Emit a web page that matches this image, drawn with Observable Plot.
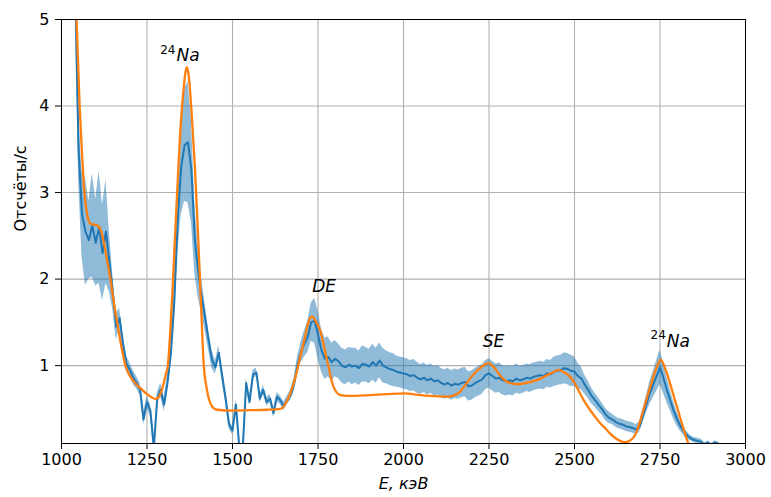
<!DOCTYPE html>
<html>
<head>
<meta charset="utf-8">
<script src="https://cdn.jsdelivr.net/npm/d3@7"></script>
<script src="https://cdn.jsdelivr.net/npm/@observablehq/plot@0.6"></script>
<style>
  html, body { margin: 0; padding: 0; background: #fff; }
  svg { display: block; }
</style>
</head>
<body>
<script>
// Measured spectrum: channels start at 1040 keV, 10 keV apart
const E0 = 1040;
const dE = 10;

// Count rate, counts/s
const counts = [
  5.4, 3.5, 2.75, 2.55, 2.45, 2.62, 2.42, 2.6, 2.3, 2.55,
  2.2, 1.85, 1.45, 1.55, 1.25, 1.02, 0.95, 0.86, 0.80, 0.72,
  0.38, 0.58, 0.48, 0.05, 0.62, 0.72, 0.55, 0.80, 1.15, 1.75,
  2.7, 3.3, 3.55, 3.58, 3.25, 2.45, 2.08, 1.8, 1.55, 1.30,
  1.07, 0.98, 1.15, 0.88, 0.62, 0.32, 0.25, 0.55, 0.05, 0.04,
  0.80, 0.58, 0.90, 0.92, 0.62, 0.72, 0.58, 0.62, 0.45, 0.64,
  0.60, 0.53, 0.60, 0.66, 0.78, 1.0, 1.15, 1.25, 1.33, 1.50,
  1.52, 1.36, 1.18, 1.08, 1.10, 1.04, 1.08, 1.05, 1.0, 0.98,
  1.01, 0.99, 1.0, 0.97, 1.02, 1.01, 0.99, 1.04, 1.0, 1.06,
  1.0, 0.98, 0.96, 0.95, 0.93, 0.92, 0.91, 0.90, 0.88, 0.89,
  0.86, 0.84, 0.86, 0.83, 0.85, 0.82, 0.83, 0.80, 0.78, 0.80,
  0.77, 0.79, 0.78, 0.80, 0.81, 0.76, 0.77, 0.80, 0.82, 0.84,
  0.89, 0.91, 0.88, 0.85, 0.86, 0.83, 0.82, 0.83, 0.82, 0.85,
  0.83, 0.84, 0.86, 0.85, 0.87, 0.88, 0.89, 0.88, 0.91, 0.90,
  0.93, 0.94, 0.95, 0.97, 0.96, 0.94, 0.93, 0.88, 0.85, 0.78,
  0.72, 0.65, 0.60, 0.55, 0.50, 0.44, 0.40, 0.38, 0.35, 0.33,
  0.32, 0.30, 0.29, 0.28, 0.26, 0.29, 0.42, 0.55, 0.68, 0.78,
  0.88, 0.98, 0.86, 0.72, 0.60, 0.48, 0.38, 0.30, 0.24, 0.19,
  0.16, 0.14, 0.13, 0.12, 0.09, 0.11, 0.08, 0.11, 0.10
];

// Statistical uncertainty of each channel (±1σ), counts/s
const sigma = [
  0.3, 0.35, 0.5, 0.62, 0.45, 0.6, 0.5, 0.65, 0.55, 0.6,
  0.35, 0.2, 0.15, 0.12, 0.1, 0.09, 0.08, 0.08, 0.07, 0.07,
  0.07, 0.07, 0.07, 0.06, 0.07, 0.08, 0.08, 0.1, 0.15, 0.25,
  0.4, 0.55, 0.65, 0.7, 0.6, 0.4, 0.3, 0.2, 0.15, 0.12,
  0.1, 0.08, 0.08, 0.07, 0.06, 0.05, 0.05, 0.05, 0.04, 0.04,
  0.05, 0.05, 0.05, 0.05, 0.05, 0.05, 0.05, 0.05, 0.05, 0.05,
  0.05, 0.05, 0.05, 0.06, 0.08, 0.1, 0.12, 0.15, 0.18, 0.22,
  0.26, 0.28, 0.25, 0.24, 0.23, 0.22, 0.21, 0.2, 0.2, 0.2,
  0.2, 0.21, 0.2, 0.2, 0.21, 0.2, 0.2, 0.21, 0.2, 0.2,
  0.2, 0.19, 0.19, 0.19, 0.18, 0.18, 0.18, 0.18, 0.18, 0.18,
  0.18, 0.17, 0.17, 0.17, 0.17, 0.17, 0.17, 0.17, 0.17, 0.17,
  0.17, 0.17, 0.17, 0.17, 0.17, 0.17, 0.17, 0.17, 0.17, 0.17,
  0.17, 0.17, 0.17, 0.17, 0.17, 0.17, 0.17, 0.17, 0.17, 0.17,
  0.16, 0.16, 0.16, 0.16, 0.16, 0.16, 0.16, 0.16, 0.16, 0.16,
  0.17, 0.17, 0.17, 0.18, 0.18, 0.18, 0.17, 0.15, 0.13, 0.11,
  0.1, 0.09, 0.08, 0.08, 0.07, 0.07, 0.07, 0.06, 0.06, 0.06,
  0.06, 0.06, 0.06, 0.06, 0.06, 0.06, 0.08, 0.1, 0.13, 0.15,
  0.18, 0.2, 0.18, 0.15, 0.12, 0.1, 0.08, 0.06, 0.05, 0.04,
  0.03, 0.03, 0.03, 0.03, 0.02, 0.02, 0.02, 0.02, 0.02
];

// Model curve (energy, keV / rate, counts/s)
const fitE = [
  1040, 1044, 1053, 1060, 1067, 1075, 1085, 1095, 1105, 1115,
  1125, 1135, 1143, 1155, 1165, 1175, 1187, 1200, 1215, 1231,
  1250, 1265, 1275, 1285, 1295, 1305, 1311, 1318, 1325, 1332,
  1340, 1348, 1356, 1362, 1367, 1372, 1380, 1390, 1400, 1408,
  1416, 1424, 1432, 1442, 1455, 1500, 1550, 1600, 1640, 1655,
  1669, 1685, 1698, 1712, 1722, 1732, 1742, 1756, 1776, 1795,
  1815, 1850, 1900, 1950, 2000, 2050, 2100, 2130, 2160, 2185,
  2205, 2224, 2248, 2265, 2282, 2300, 2311, 2335, 2370, 2400,
  2430, 2455, 2470, 2487, 2500, 2516, 2530, 2545, 2560, 2574,
  2594, 2603, 2620, 2647, 2660, 2676, 2690, 2700, 2712, 2725,
  2740, 2752, 2765, 2779, 2790, 2802, 2815, 2831, 2840
];
const fitY = [
  5.6, 5.0, 4.0, 3.45, 3.0, 2.75, 2.64, 2.63, 2.62, 2.56,
  2.40, 2.18, 2.0, 1.68, 1.45, 1.22, 1.0, 0.88, 0.80, 0.74,
  0.67, 0.63, 0.615, 0.64, 0.74, 0.9, 1.0, 1.4, 1.9, 2.5,
  3.15, 3.75, 4.15, 4.38, 4.45, 4.35, 3.95, 3.3, 2.45, 1.7,
  1.0, 0.75, 0.6, 0.52, 0.49, 0.48, 0.485, 0.49, 0.5, 0.56,
  0.68, 0.88, 1.10, 1.33, 1.5, 1.57, 1.52, 1.41, 1.07, 0.76,
  0.66, 0.65, 0.66, 0.67, 0.68, 0.66, 0.645, 0.64, 0.68, 0.80,
  0.90, 0.97, 1.03, 0.98, 0.89, 0.82, 0.80, 0.785, 0.81, 0.85,
  0.91, 0.95, 0.92, 0.87, 0.80, 0.68, 0.58, 0.49, 0.41, 0.34,
  0.26, 0.22, 0.16, 0.115, 0.13, 0.19, 0.33, 0.47, 0.63, 0.80,
  0.98, 1.07, 0.97, 0.80, 0.65, 0.49, 0.32, 0.12, 0.04
];

// Peak labels
const peakLabelE = [1336, 1768, 2263, 2770];
const peakLabelY = [4.58, 1.91, 1.28, 1.28];
const peakLabelNuclide = ["Na", "DE", "SE", "Na"];
const peakLabelMass = ["24", "", "", "24"];

const xTicks = [1000, 1250, 1500, 1750, 2000, 2250, 2500, 2750, 3000];
const yTicks = [1, 2, 3, 4, 5];

const spectrum = counts.map((c, i) => ({E: E0 + i * dE, c, lo: c - sigma[i], hi: c + sigma[i]}));
const fit = fitE.map((E, i) => ({E, y: fitY[i]}));
const labels = peakLabelE.map((E, i) => ({E, y: peakLabelY[i], name: peakLabelNuclide[i], mass: peakLabelMass[i]}));
const isotope = labels.filter(d => d.mass);
const plain = labels.filter(d => !d.mass);

const chart = Plot.plot({
  width: 771,
  height: 497,
  marginLeft: 61,
  marginRight: 26,
  marginTop: 19,
  marginBottom: 54,
  style: {fontFamily: "'DejaVu Sans', sans-serif", fontSize: "16px", background: "#fff", color: "#000"},
  x: {domain: [1000, 3000]},
  y: {domain: [0.1, 5]},
  marks: [
    Plot.gridX(xTicks, {stroke: "#b0b0b0", strokeOpacity: 1, strokeWidth: 1.1}),
    Plot.gridY(yTicks, {stroke: "#b0b0b0", strokeOpacity: 1, strokeWidth: 1.1}),
    Plot.areaY(spectrum, {x: "E", y1: "lo", y2: "hi", fill: "#1f77b4", fillOpacity: 0.5, clip: true}),
    Plot.lineY(spectrum, {x: "E", y: "c", stroke: "#1f77b4", strokeWidth: 2, clip: true}),
    Plot.line(fit, {x: "E", y: "y", stroke: "#ff7f0e", strokeWidth: 2.3, curve: "monotone-x", clip: true}),
    Plot.frame({stroke: "#000", strokeWidth: 1}),
    Plot.axisX({ticks: xTicks, tickSize: 6, tickPadding: 4, tickFormat: d => String(d), label: null, fontSize: 16}),
    Plot.axisY({ticks: yTicks, tickSize: 6, tickPadding: 6, tickFormat: d => String(d), label: null, fontSize: 16}),
    // peak labels: italic symbol with an upright mass-number superscript
    Plot.text(isotope, {x: "E", y: "y", text: "name", textAnchor: "start", fontStyle: "italic", fontSize: 17}),
    Plot.text(isotope, {x: "E", y: "y", text: "mass", textAnchor: "end", dy: -6, dx: -1, fontSize: 12}),
    Plot.text(plain, {x: "E", y: "y", text: "name", textAnchor: "middle", fontStyle: "italic", fontSize: 17}),
    // axis titles
    Plot.text(["E, кэВ"], {frameAnchor: "bottom", dy: 45, text: d => d, fontStyle: "italic", fontSize: 16}),
    Plot.text(["Отсчёты/с"], {frameAnchor: "left", dx: -41, rotate: -90, text: d => d, fontSize: 16})
  ]
});
document.body.appendChild(chart);
</script>
</body>
</html>
